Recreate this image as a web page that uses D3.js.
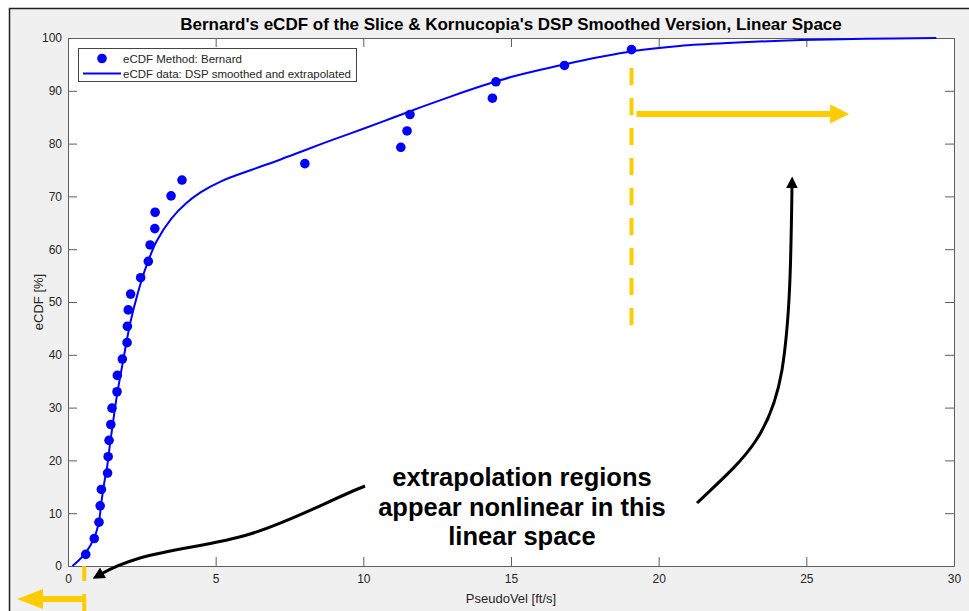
<!DOCTYPE html>
<html>
<head>
<meta charset="utf-8">
<script src="https://cdn.jsdelivr.net/npm/d3@7"></script>
<style>
  html, body { margin: 0; padding: 0; background: #fff; }
  svg { display: block; font-family: "Liberation Sans", Arial, sans-serif; }
</style>
</head>
<body>
<div id="chart"></div>
<script>
// Bernard median-rank points
const bernardX = [0.60, 0.89, 1.05, 1.09, 1.13, 1.34, 1.36, 1.39, 1.45, 1.49, 1.66, 1.67,
  1.84, 2.00, 2.01, 2.04, 2.12, 2.46, 2.72, 2.78, 2.94, 2.95, 3.49, 3.86,
  8.02, 11.27, 11.48, 11.58, 14.37, 14.49, 16.81, 19.08]
const bernardY = [2.2, 5.2, 8.3, 11.4, 14.5, 17.6, 20.7, 23.8, 26.8, 29.9, 33.0, 36.1,
  39.2, 42.3, 45.4, 48.5, 51.5, 54.6, 57.7, 60.8, 63.9, 67.0, 70.1, 73.1,
  76.2, 79.3, 82.4, 85.5, 88.6, 91.7, 94.8, 97.8]

// DSP smoothed and extrapolated curve
const smoothX = [0.15, 0.35, 0.6, 0.9, 1.05, 1.13, 1.22, 1.33, 1.42, 1.52, 1.62, 1.74, 1.87,
  2.0, 2.13, 2.35, 2.6, 3.0, 3.5, 4.0, 4.5, 5.2, 6.2, 7.2, 8.0, 9.0, 10.0, 11.0,
  12.0, 13.0, 14.0, 14.4, 15.0, 16.0, 16.8, 18.0, 19.1, 20.7, 22.5, 24.8, 27.0, 29.4]
const smoothY = [0, 1, 2.5, 5.5, 8.5, 12, 15.5, 19, 23, 27, 31, 35, 39,
  43, 46.6, 51.4, 56, 61.5, 65.8, 68.7, 70.8, 72.9, 75.0, 77.0, 78.7, 80.8, 82.8, 84.9,
  87.0, 89.0, 90.9, 91.6, 92.6, 94.0, 95.0, 96.4, 97.5, 98.5, 99.1, 99.6, 99.85, 100]

const xTicks = [0, 5, 10, 15, 20, 25, 30]
const yTicks = [0, 10, 20, 30, 40, 50, 60, 70, 80, 90, 100]

const titleText = "Bernard's eCDF of the Slice & Kornucopia's DSP Smoothed Version, Linear Space"
const noteLines = ["extrapolation regions", "appear nonlinear in this", "linear space"]

const width = 969
const height = 611
const plot = { left: 68, right: 954, top: 38, bottom: 566 }
const blue = "#0000ff"
const gold = "#ffcc00"
const axisColor = "#5e5e5e"
const textColor = "#262626"

const svg = d3.select("#chart").append("svg")
  .attr("width", width)
  .attr("height", height)

// figure background with the screenshot frame on top/left
svg.append("rect").attr("x", 9).attr("y", 8).attr("width", width).attr("height", height).attr("fill", "#f0f0f0")
svg.append("path").attr("d", `M9.5,${height} V8.5 H${width}`).attr("fill", "none").attr("stroke", "#222").attr("stroke-width", 1.5)

const x = d3.scaleLinear().domain([0, 30]).range([plot.left, plot.right])
const y = d3.scaleLinear().domain([0, 100]).range([plot.bottom, plot.top])

svg.append("rect")
  .attr("x", plot.left).attr("y", plot.top)
  .attr("width", plot.right - plot.left).attr("height", plot.bottom - plot.top)
  .attr("fill", "#fff")

// axes: ticks point inward, box on
function styleAxis(g) {
  g.selectAll(".domain").attr("stroke", axisColor)
  g.selectAll(".tick line").attr("stroke", axisColor)
  g.selectAll(".tick text").attr("fill", textColor).style("font-size", "12px")
    .style("font-family", "\"Liberation Sans\", Arial, sans-serif")
}

svg.append("g").attr("transform", `translate(0,${plot.bottom})`)
  .call(d3.axisBottom(x).tickValues(xTicks).tickSizeInner(-9).tickSizeOuter(0).tickPadding(8))
  .call(styleAxis)
svg.append("g").attr("transform", `translate(0,${plot.top})`)
  .call(d3.axisTop(x).tickValues(xTicks).tickSizeInner(-9).tickSizeOuter(0).tickFormat(""))
  .call(styleAxis)
svg.append("g").attr("transform", `translate(${plot.left},0)`)
  .call(d3.axisLeft(y).tickValues(yTicks).tickSizeInner(-9).tickSizeOuter(0).tickPadding(6))
  .call(styleAxis)
svg.append("g").attr("transform", `translate(${plot.right},0)`)
  .call(d3.axisRight(y).tickValues(yTicks).tickSizeInner(-9).tickSizeOuter(0).tickFormat(""))
  .call(styleAxis)

// title and axis labels
svg.append("text")
  .attr("x", (plot.left + plot.right) / 2).attr("y", 30)
  .attr("text-anchor", "middle")
  .attr("font-weight", "bold").attr("font-size", 17)
  .attr("fill", "#000")
  .text(titleText)

svg.append("text")
  .attr("x", (plot.left + plot.right) / 2).attr("y", 603)
  .attr("text-anchor", "middle").attr("font-size", 13).attr("fill", textColor)
  .text("PseudoVel [ft/s]")

svg.append("text")
  .attr("transform", `translate(43,${(plot.top + plot.bottom) / 2}) rotate(-90)`)
  .attr("text-anchor", "middle").attr("font-size", 13).attr("fill", textColor)
  .text("eCDF [%]")

// smoothed curve
const smooth = smoothX.map((v, i) => [v, smoothY[i]])
svg.append("path")
  .datum(smooth)
  .attr("fill", "none")
  .attr("stroke", blue)
  .attr("stroke-width", 2)
  .attr("d", d3.line().x(d => x(d[0])).y(d => y(d[1])).curve(d3.curveCatmullRom.alpha(0.5)))

// Bernard points
svg.selectAll(".pt")
  .data(bernardX.map((v, i) => [v, bernardY[i]]))
  .enter()
  .append("circle")
  .attr("class", "pt")
  .attr("cx", d => x(d[0]))
  .attr("cy", d => y(d[1]))
  .attr("r", 4.8)
  .attr("fill", blue)

// legend
const lg = svg.append("g").attr("transform", "translate(78,48)")
lg.append("rect").attr("x", 0.5).attr("y", 0.5).attr("width", 278).attr("height", 33)
  .attr("fill", "#fff").attr("stroke", "#444").attr("stroke-width", 1)
lg.append("circle").attr("cx", 24).attr("cy", 10.5).attr("r", 4.8).attr("fill", blue)
lg.append("line").attr("x1", 5).attr("x2", 43).attr("y1", 25.5).attr("y2", 25.5)
  .attr("stroke", blue).attr("stroke-width", 2)
lg.append("text").attr("x", 45).attr("y", 14.5).attr("font-size", 11.5).attr("fill", textColor)
  .text("eCDF Method: Bernard")
lg.append("text").attr("x", 45).attr("y", 29.5).attr("font-size", 11.5).attr("fill", textColor)
  .text("eCDF data: DSP smoothed and extrapolated")

// yellow annotations: upper tail
svg.append("line")
  .attr("x1", x(19.08)).attr("x2", x(19.08))
  .attr("y1", y(94.3)).attr("y2", y(45.5))
  .attr("stroke", gold).attr("stroke-width", 4)
  .attr("stroke-dasharray", "17,13")

const ay = y(85.6)
const ax0 = x(19.25)
const ax1 = x(26.45)
svg.append("path")
  .attr("d", `M${ax0},${ay - 3} H${ax1 - 19} V${ay - 9.5} L${ax1},${ay} L${ax1 - 19},${ay + 9.5} V${ay + 3} H${ax0} Z`)
  .attr("fill", gold)

// yellow annotations: lower tail (below axis)
const lx = x(0.55)
svg.append("line").attr("x1", lx).attr("x2", lx).attr("y1", 566).attr("y2", 581)
  .attr("stroke", gold).attr("stroke-width", 4)
svg.append("line").attr("x1", lx).attr("x2", lx).attr("y1", 594).attr("y2", 611)
  .attr("stroke", gold).attr("stroke-width", 4)
svg.append("path")
  .attr("d", `M${lx},${596} H${43} V${589} L${17},${599} L${43},${609} V${602} H${lx} Z`)
  .attr("fill", gold)

// black callout arrows
const defs = svg.append("defs")
defs.append("marker")
  .attr("id", "head")
  .attr("viewBox", "0 0 10 10")
  .attr("refX", 2).attr("refY", 5)
  .attr("markerWidth", 4).attr("markerHeight", 4)
  .attr("orient", "auto-start-reverse")
  .append("path").attr("d", "M0,0 L10,5 L0,10 Z").attr("fill", "#000")

svg.append("path")
  .attr("d", "M365,486 C330,500 290,522 250,534 C215,545 175,548 140,558 C120,564 108,570 101,574")
  .attr("fill", "none").attr("stroke", "#000").attr("stroke-width", 3)
  .attr("marker-end", "url(#head)")

svg.append("path")
  .attr("d", "M697,503 C740,462 770,440 782,370 C790,320 791,260 792,186")
  .attr("fill", "none").attr("stroke", "#000").attr("stroke-width", 3)
  .attr("marker-end", "url(#head)")

// callout text
svg.append("g")
  .selectAll("text")
  .data(noteLines)
  .enter()
  .append("text")
  .attr("x", 522)
  .attr("y", (_, i) => 486 + i * 29.5)
  .attr("text-anchor", "middle")
  .attr("font-weight", "bold")
  .attr("font-size", 25.5)
  .attr("fill", "#000")
  .text(d => d)
</script>
</body>
</html>
